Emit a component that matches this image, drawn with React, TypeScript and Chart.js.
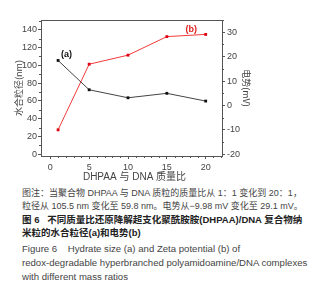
import React, { useEffect, useRef } from "react";
import { Chart, registerables } from "chart.js";

Chart.register(...registerables);

const massRatios = [1, 5, 10, 15, 20];
const hydrateSize = [105.5, 72.5, 63.5, 68.5, 59.8];
const zetaPotential = [-9.98, 16.9, 20.6, 28.2, 29.1];
const xTicks = [0, 5, 10, 15, 20];
const leftTicks = [0, 20, 40, 60, 80, 100, 120, 140];
const rightTicks = [-20, -10, 0, 10, 20, 30];
const xMinor = [1, 2, 3, 4, 6, 7, 8, 9, 11, 12, 13, 14, 16, 17, 18, 19, 21, 22];
const leftMinor = [10, 30, 50, 70, 90, 110, 130, 150];
const rightMinor = [-15, -5, 5, 15, 25, 35];
const xTitle = "DHPAA 与 DNA 质量比";

const captionLines = [
  { text: "图注：当聚合物 DHPAA 与 DNA 质粒的质量比从 1：1 变化到 20：1，", bold: false, cjk: true, size: 9 },
  { text: "粒径从 105.5 nm 变化至 59.8 nm。电势从−9.98 mV 变化至 29.1 mV。", bold: false, cjk: true, size: 9 },
  { text: "图 6\u00a0\u00a0\u00a0不同质量比还原降解超支化聚酰胺胺(DHPAA)/DNA 复合物纳", bold: true, cjk: true, size: 9.5 },
  { text: "米粒的水合粒径(a)和电势(b)", bold: true, cjk: true, size: 9.5 },
  { text: "Figure 6\u00a0\u00a0\u00a0 Hydrate size (a) and Zeta potential (b) of", bold: false, cjk: false, size: 9.6 },
  { text: "redox-degradable hyperbranched polyamidoamine/DNA complexes", bold: false, cjk: false, size: 9.6 },
  { text: "with different mass ratios", bold: false, cjk: false, size: 9.6 },
];
const captionCenters = [193, 206, 219.5, 233, 249, 263, 277];

const axisColor = "#555";
const textColor = "#444";

const framePlugin = {
  id: "frame",
  afterDraw(chart: any) {
    const { ctx, chartArea, scales } = chart;
    ctx.save();
    ctx.strokeStyle = axisColor;
    ctx.lineWidth = 1;
    ctx.beginPath();
    ctx.moveTo(chartArea.left, chartArea.top + 0.5);
    ctx.lineTo(chartArea.right, chartArea.top + 0.5);
    const xs = scales.x;
    xMinor.forEach((v) => {
      const px = Math.round(xs.getPixelForValue(v)) + 0.5;
      if (px < chartArea.left || px > chartArea.right) return;
      ctx.moveTo(px, chartArea.bottom);
      ctx.lineTo(px, chartArea.bottom + 2);
    });
    const ys = scales.y;
    leftMinor.forEach((v) => {
      const py = Math.round(ys.getPixelForValue(v)) + 0.5;
      if (py < chartArea.top || py > chartArea.bottom) return;
      ctx.moveTo(chartArea.left, py);
      ctx.lineTo(chartArea.left - 2, py);
    });
    const y1 = scales.y1;
    rightMinor.forEach((v) => {
      const py = Math.round(y1.getPixelForValue(v)) + 0.5;
      if (py < chartArea.top || py > chartArea.bottom) return;
      ctx.moveTo(chartArea.right, py);
      ctx.lineTo(chartArea.right + 2, py);
    });
    ctx.stroke();
    ctx.textBaseline = "middle";
    ctx.font = "10px 'Liberation Sans', 'Noto Sans CJK SC', sans-serif";
    ctx.fillStyle = textColor;
    ctx.textAlign = "center";
    ctx.fillText(xTitle, (chartArea.left + chartArea.right) / 2 + 3, chartArea.bottom + 21);
    ctx.textAlign = "left";
    ctx.font = "bold 9px 'Liberation Sans', Arial, sans-serif";
    ctx.fillStyle = "#111";
    ctx.fillText("(a)", xs.getPixelForValue(massRatios[0]) + 3, ys.getPixelForValue(hydrateSize[0]) - 6);
    ctx.fillStyle = "#e02020";
    ctx.fillText("(b)", xs.getPixelForValue(17.4), y1.getPixelForValue(31.2));
    ctx.restore();
  },
};

function ChartBox() {
  const ref = useRef<HTMLCanvasElement>(null);
  useEffect(() => {
    document.body.style.margin = "0";
    const tickFont = { family: "'Liberation Sans', Arial, sans-serif", size: 9 };
    const chart = new Chart(ref.current!, {
      type: "line",
      data: {
        datasets: [
          {
            data: massRatios.map((x, i) => ({ x, y: hydrateSize[i] })),
            yAxisID: "y",
            borderColor: "#444",
            backgroundColor: "#111",
            borderWidth: 1,
            pointStyle: "rect",
            pointRadius: 2,
            pointBorderWidth: 0,
          },
          {
            data: massRatios.map((x, i) => ({ x, y: zetaPotential[i] })),
            yAxisID: "y1",
            borderColor: "#f23a3a",
            backgroundColor: "#e00010",
            borderWidth: 1,
            pointStyle: "rect",
            pointRadius: 2,
            pointBorderWidth: 0,
          },
        ],
      },
      options: {
        animation: false,
        responsive: false,
        events: [],
        layout: { padding: { top: 20, left: 13, right: 68, bottom: 0 } },
        plugins: { legend: { display: false }, tooltip: { enabled: false } },
        scales: {
          x: {
            type: "linear",
            min: -1.2,
            max: 22.1,
            afterBuildTicks: (s: any) => {
              s.ticks = xTicks.map((v) => ({ value: v }));
            },
            afterFit: (s: any) => {
              s.height = 29;
              s.paddingLeft = 0;
              s.paddingRight = 0;
            },
            grid: { display: true, drawOnChartArea: false, drawTicks: true, tickLength: 3, color: axisColor },
            border: { display: true, color: axisColor },
            ticks: { font: tickFont, color: textColor, padding: 3, maxRotation: 0 },
          },
          y: {
            position: "left",
            min: -2,
            max: 151,
            afterBuildTicks: (s: any) => {
              s.ticks = leftTicks.map((v) => ({ value: v }));
            },
            afterFit: (s: any) => {
              s.width = 28;
              s.paddingTop = 0;
              s.paddingBottom = 0;
            },
            grid: { display: true, drawOnChartArea: false, drawTicks: true, tickLength: 3, color: axisColor },
            border: { display: true, color: axisColor },
            ticks: { font: tickFont, color: textColor, padding: 1 },
            title: {
              display: true,
              text: "水合粒径(nm)",
              font: { family: "'Noto Sans CJK SC', sans-serif", size: 9 },
              color: textColor,
              padding: { top: 0, bottom: 0 },
            },
          },
          y1: {
            position: "right",
            min: -20.7,
            max: 35,
            afterBuildTicks: (s: any) => {
              s.ticks = rightTicks.map((v) => ({ value: v }));
            },
            afterFit: (s: any) => {
              s.width = 30;
              s.paddingTop = 0;
              s.paddingBottom = 0;
            },
            grid: { display: true, drawOnChartArea: false, drawTicks: true, tickLength: 3, color: axisColor },
            border: { display: true, color: axisColor },
            ticks: { font: tickFont, color: textColor, padding: 2 },
            title: {
              display: true,
              text: "电势(mV)",
              font: { family: "'Noto Sans CJK SC', sans-serif", size: 9 },
              color: textColor,
              padding: { top: 0, bottom: 0 },
            },
          },
        },
      },
      plugins: [framePlugin],
    } as any);
    return () => chart.destroy();
  }, []);
  return <canvas ref={ref} width={320} height={185} style={{ position: "absolute", left: 0, top: 0 }} />;
}

export default function App() {
  return (
    <div style={{ position: "relative", width: 320, height: 300, background: "#fff", overflow: "hidden" }}>
      <ChartBox />
      {captionLines.map((l, i) => (
        <div
          key={i}
          style={{
            position: "absolute",
            left: 22,
            top: captionCenters[i] - 7,
            height: 14,
            lineHeight: "14px",
            whiteSpace: "nowrap",
            fontSize: l.size,
            fontWeight: l.bold ? 700 : 400,
            color: l.bold ? "#222" : "#444",
            fontFamily: l.cjk
              ? "'Liberation Sans', 'Noto Sans CJK SC', sans-serif"
              : "'Liberation Sans', Arial, sans-serif",
          }}
        >
          {l.text}
        </div>
      ))}
    </div>
  );
}
